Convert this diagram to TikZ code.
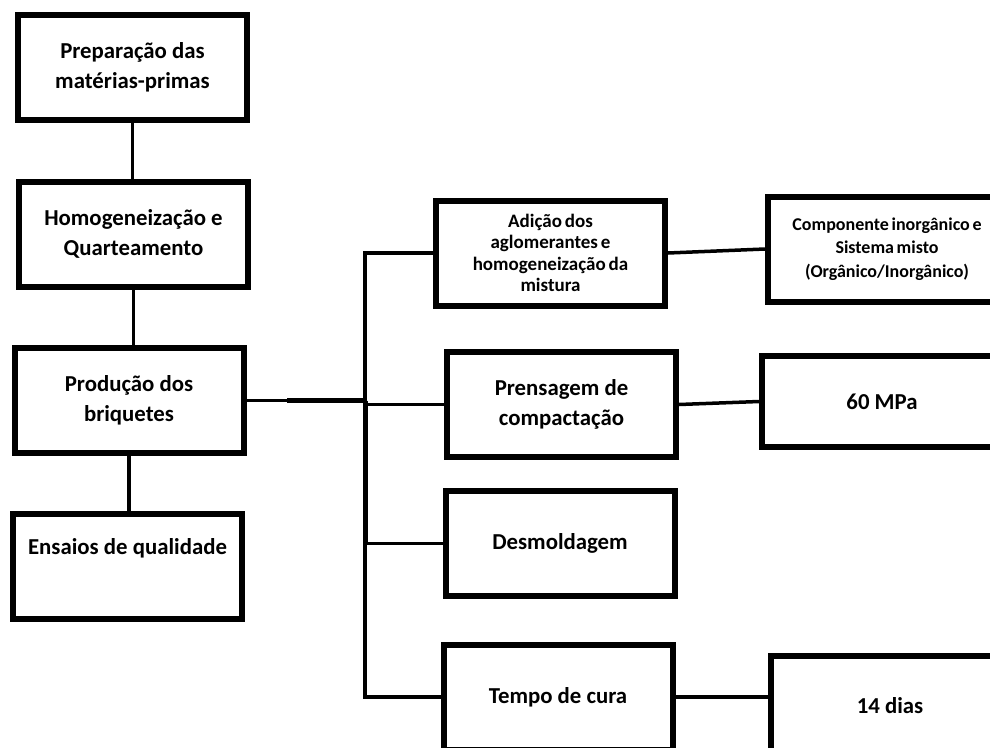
\documentclass[tikz,border=0pt]{standalone}
\usepackage{fontspec}
\setmainfont{Carlito}
\newcommand\apertado{\spaceskip 0.15em\relax}
\tikzset{
  caixa/.style={draw, line width=6pt, align=center, inner sep=2pt,
    minimum width=229pt, minimum height=105pt,
    font=\bfseries\fontsize{22.8}{30}\selectfont},
  caixap/.style={caixa, font=\bfseries\fontsize{19}{21.5}\selectfont\apertado},
  liga/.style={line width=3.5pt},
  ligag/.style={line width=5pt}
}
\begin{document}
\begin{tikzpicture}[x=1pt,y=-1pt]
  \useasboundingbox (0,0) rectangle (990,747);
  \clip (0,0) rectangle (990,747);
  \fill[white] (0,0) rectangle (990,747);
  % coluna da esquerda
  \node[caixa] (prep) at (132.5,67.5) {Preparação das\\matérias-primas};
  \node[caixa] (homog) at (133.5,234) {Homogeneização e\\Quarteamento};
  \node[caixa] (prod) at (129,400.5) {Produção dos\\briquetes};
  \node[caixa] (ensaio) at (127.5,566.5) {Ensaios de qualidade\\[10pt]\mbox{}};
  \draw[liga] (prep.south) -- (prep.south |- homog.north);
  \draw[liga] (homog.south) -- (homog.south |- prod.north);
  \draw[liga] (prod.south) -- (prod.south |- ensaio.north);
  % etapas da producao
  \node[caixap] (adi) at (550.5,253) {Adição dos\\aglomerantes e\\homogeneização da\\mistura};
  \node[caixa] (prens) at (561.5,404.5) {Prensagem de\\compactação};
  \node[caixa] (desm) at (560,543.5) {Desmoldagem};
  \node[caixa] (tempo) at (558,697) {Tempo de cura};
  % parametros
  \node[caixap, minimum width=238pt, font=\bfseries\fontsize{18}{23.5}\selectfont\apertado] (comp) at (887,249) {Componente inorgânico e\\Sistema misto\\(Orgânico/Inorgânico)};
  \node[caixa, minimum width=240pt, minimum height=91pt] (mpa) at (882,401.5) {60 MPa};
  \node[caixa, minimum width=238pt, minimum height=100pt] (dias) at (890,706) {14 dias};
  % barramento
  \coordinate (corte) at (287,0);
  \coordinate (bus) at (365,0);
  \draw[liga] (prod.east) -- (prod.east -| corte);
  \draw[ligag] (prod.east -| corte) -- (prod.east -| bus);
  \draw[liga] (adi.west) -- (adi.west -| bus) -- (prod.east -| bus);
  \draw[ligag] (prod.east -| bus) -- (desm.west -| bus);
  \draw[liga] (desm.west -| bus) -- (tempo.west -| bus) -- (tempo.west);
  \draw[liga] (prens.west -| bus) -- (prens.west);
  \draw[liga] (desm.west -| bus) -- (desm.west);
  \draw[liga] (adi.east) -- (comp.west);
  \draw[liga] (prens.east) -- (mpa.west);
  \draw[liga] (tempo.east) -- (tempo.east -| dias.west);
\end{tikzpicture}
\end{document}
